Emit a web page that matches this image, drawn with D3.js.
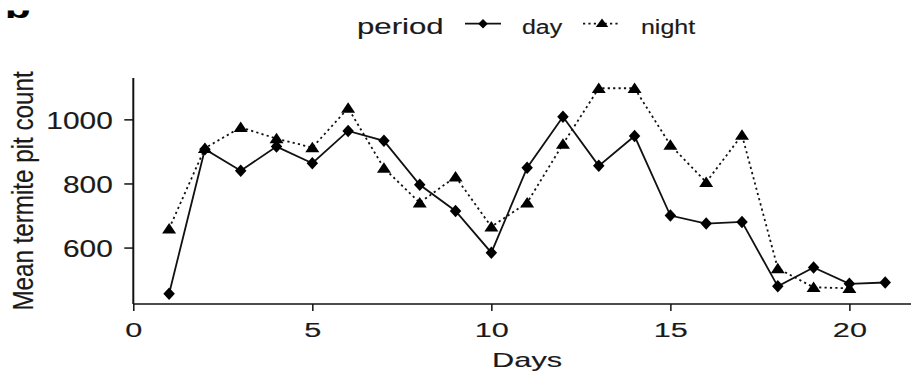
<!DOCTYPE html>
<html>
<head>
<meta charset="utf-8">
<script src="https://cdn.jsdelivr.net/npm/d3@7/dist/d3.min.js"></script>
<style>
  html, body { margin: 0; padding: 0; background: #fff; }
  svg { display: block; }
  text { font-family: "Liberation Sans", Arial, sans-serif; fill: #1a1a1a; stroke: #1a1a1a; stroke-width: 0.15px; }
</style>
</head>
<body>
<svg id="chart" width="911" height="375"></svg>
<script>
// ---- data ----
const days = [1,2,3,4,5,6,7,8,9,10,11,12,13,14,15,16,17,18,19,20,21];
const dayValues   = [456, 907, 840, 915, 863, 964, 933, 796, 714, 584, 849, 1008, 855, 948, 700, 675, 680, 479, 538, 487, 491];
const nightDays   = [1,2,3,4,5,6,7,8,9,10,11,12,13,14,15,16,17,18,19,20];
const nightValues = [659, 910, 975, 940, 912, 1035, 848, 740, 821, 665, 740, 923, 1097, 1097, 920, 804, 951, 535, 476, 473];
const xTicks = [0, 5, 10, 15, 20];
const yTicks = [600, 800, 1000];
const seriesNames = ["day", "night"];
const legendTitle = "period";
const xTitle = "Days";
const yTitle = "Mean termite pit count";
const panelLetter = "b";

// ---- layout ----
const svg = d3.select("#chart");
const pLeft = 133.3, pRight = 921, pTop = 78, pBottom = 304;

// ggplot-like 5% expansion of the data range
function expand(ext) { const r = ext[1] - ext[0]; return [ext[0] - 0.05 * r, ext[1] + 0.05 * r]; }
const xDom = expand(d3.extent(days));
const yDom = expand(d3.extent(dayValues.concat(nightValues)));

const x = d3.scaleLinear().domain(xDom).range([pLeft, pRight]);
const y = d3.scaleLinear().domain(yDom).range([pBottom, pTop]);

// partial panel letter at top-left (cropped in the reference)
svg.append("clipPath").attr("id", "clipB")
  .append("rect").attr("x", 0).attr("y", 10.5).attr("width", 60).attr("height", 12);
svg.append("g").attr("clip-path", "url(#clipB)")
  .append("text").attr("transform", "translate(5,17.5) scale(1.4,1)")
  .style("font-weight", "bold").style("font-size", "30px").style("fill", "#000")
  .text(panelLetter);

// ---- axes ----
const xAxis = d3.axisBottom(x).tickValues(xTicks).tickSize(7).tickFormat(d3.format("d"));
const gx = svg.append("g").attr("transform", `translate(0,${pBottom})`).call(xAxis);
gx.select(".domain").attr("d", `M${pLeft},0H${pRight}`).attr("stroke", "#111").attr("stroke-width", 1.7);
gx.selectAll(".tick line").attr("stroke", "#111").attr("stroke-width", 1.5);
gx.selectAll(".tick text")
  .attr("y", 0).attr("dy", 0)
  .attr("transform", "translate(0,32.7) scale(1.46,1)")
  .style("font-size", "21px").attr("fill", "#1a1a1a");

const yAxis = d3.axisLeft(y).tickValues(yTicks).tickSize(9).tickFormat(d3.format("d"));
const gy = svg.append("g").attr("transform", `translate(${pLeft},0)`).call(yAxis);
gy.select(".domain").attr("d", `M0,${pBottom}V${pTop}`).attr("stroke", "#111").attr("stroke-width", 2);
gy.selectAll(".tick line").attr("stroke", "#111").attr("stroke-width", 1.5);
gy.selectAll(".tick text")
  .attr("x", 0).attr("dy", "0.36em")
  .attr("transform", "translate(-20.5,0) scale(1.22,1)")
  .style("font-size", "24.5px").attr("fill", "#1a1a1a");

// axis titles
svg.append("text")
  .attr("transform", `translate(${(pLeft + pRight) / 2},367.3) scale(1.5,1)`)
  .attr("text-anchor", "middle").style("font-size", "20.5px")
  .text(xTitle);
svg.append("text")
  .attr("transform", `translate(33,${(pTop + pBottom) / 2}) scale(1.19,1) rotate(-90)`)
  .attr("text-anchor", "middle").style("font-size", "24.2px")
  .text(yTitle);

// ---- marks ----
const diamond = (w, h) => `M0,${-h/2}L${w/2},0L0,${h/2}L${-w/2},0Z`;
const triangle = (w, h) => `M0,${-h*0.55}L${w/2},${h*0.45}L${-w/2},${h*0.45}Z`;

const line = d3.line().x(d => x(d[0])).y(d => y(d[1]));
const dayData = days.map((d, i) => [d, dayValues[i]]);
const nightData = nightDays.map((d, i) => [d, nightValues[i]]);

svg.append("path").datum(nightData).attr("d", line)
  .attr("fill", "none").attr("stroke", "#111").attr("stroke-width", 1.8)
  .attr("stroke-dasharray", "2.2,3.2");
svg.append("path").datum(dayData).attr("d", line)
  .attr("fill", "none").attr("stroke", "#111").attr("stroke-width", 1.8);

svg.append("g").selectAll("path").data(nightData).join("path")
  .attr("transform", d => `translate(${x(d[0])},${y(d[1])})`)
  .attr("d", triangle(14, 10.5)).attr("fill", "#000");
svg.append("g").selectAll("path").data(dayData).join("path")
  .attr("transform", d => `translate(${x(d[0])},${y(d[1])})`)
  .attr("d", diamond(11.5, 12.5)).attr("fill", "#000");

// ---- legend ----
const lg = svg.append("g");
lg.append("text").attr("transform", "translate(357,34) scale(1.45,1)")
  .style("font-size", "21.5px").text(legendTitle);
// day key
lg.append("line").attr("x1", 465).attr("x2", 501).attr("y1", 23.7).attr("y2", 23.7)
  .attr("stroke", "#111").attr("stroke-width", 1.8);
lg.append("path").attr("transform", "translate(483,23.7)").attr("d", diamond(9.5, 9.5)).attr("fill", "#000");
lg.append("text").attr("transform", "translate(522,34) scale(1.28,1)")
  .style("font-size", "19.5px").text(seriesNames[0]);
// night key
lg.append("line").attr("x1", 583).attr("x2", 620).attr("y1", 23.7).attr("y2", 23.7)
  .attr("stroke", "#111").attr("stroke-width", 1.8).attr("stroke-dasharray", "2.2,3.2");
lg.append("path").attr("transform", "translate(602,23.2)").attr("d", triangle(12.5, 8.5)).attr("fill", "#000");
lg.append("text").attr("transform", "translate(641,34) scale(1.28,1)")
  .style("font-size", "19.5px").text(seriesNames[1]);
</script>
</body>
</html>
